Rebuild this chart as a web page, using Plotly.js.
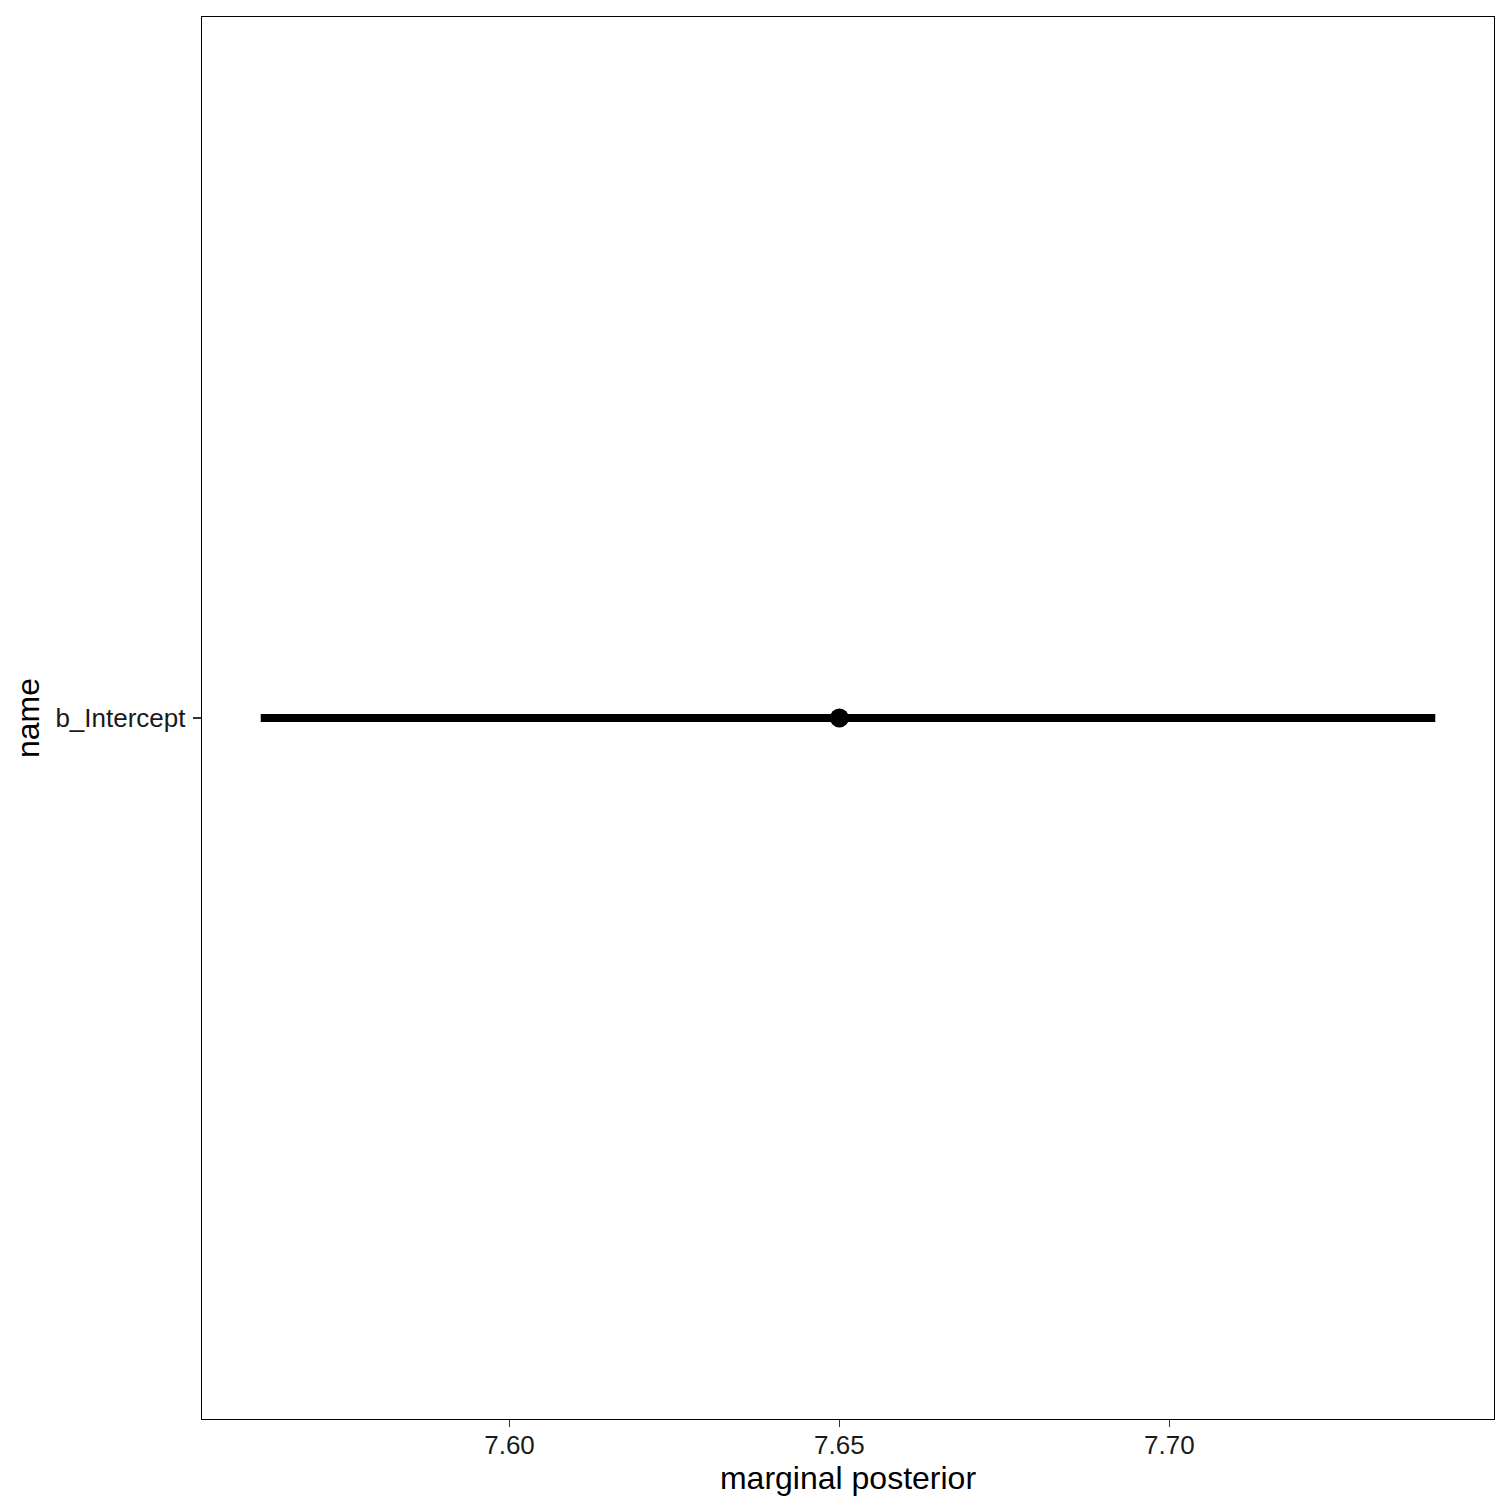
<!DOCTYPE html>
<html>
<head>
<meta charset="utf-8">
<script src="https://cdn.plot.ly/plotly-3.0.1.min.js"></script>
<style>html,body{margin:0;padding:0;background:#fff;}#chart{width:1512px;height:1512px;}</style>
</head>
<body>
<div id="chart"></div>
<script>
const names = ["b_Intercept"];
const estimate = [7.65];
const lower = [7.5623];
const upper = [7.7403];
const xTickVals = [7.60, 7.65, 7.70];
const xTickText = ["7.60", "7.65", "7.70"];

const traces = [];
names.forEach((n, i) => {
  traces.push({
    type: "scatter", mode: "lines",
    x: [lower[i], upper[i]], y: [n, n],
    line: {color: "#000000", width: 8},
    hoverinfo: "skip", showlegend: false
  });
});
traces.push({
  type: "scatter", mode: "markers",
  x: estimate, y: names,
  marker: {color: "#000000", size: 19},
  showlegend: false
});

const span = Math.max(...upper) - Math.min(...lower);
const xr = [Math.min(...lower) - 0.05 * span, Math.max(...upper) + 0.05 * span];

const layout = {
  width: 1512, height: 1512,
  margin: {l: 202, r: 18, t: 17, b: 93, pad: 0},
  paper_bgcolor: "#ffffff", plot_bgcolor: "#ffffff",
  font: {family: "Liberation Sans, Arial, sans-serif", color: "#000000"},
  xaxis: {
    range: xr, tickvals: xTickVals, ticktext: xTickText,
    ticks: "outside", ticklen: 7, tickwidth: 1.3, tickcolor: "#333333",
    ticklabelstandoff: -5,
    showgrid: false, zeroline: false,
    showline: true, mirror: true, linecolor: "#000000", linewidth: 1.3,
    tickfont: {size: 26, color: "#1a1a1a"},
    title: {text: "marginal posterior", font: {size: 32, color: "#000000"}, standoff: 4}
  },
  yaxis: {
    type: "category", range: [-0.6, 0.6],
    ticks: "outside", ticklen: 8, tickwidth: 1.3, tickcolor: "#333333",
    ticklabelstandoff: 2,
    showgrid: false, zeroline: false,
    showline: true, mirror: true, linecolor: "#000000", linewidth: 1.3,
    tickfont: {size: 26, color: "#1a1a1a"},
    title: {text: "name", font: {size: 32, color: "#000000"}, standoff: 6}
  }
};

Plotly.newPlot("chart", traces, layout, {staticPlot: true, displayModeBar: false});
</script>
</body>
</html>
